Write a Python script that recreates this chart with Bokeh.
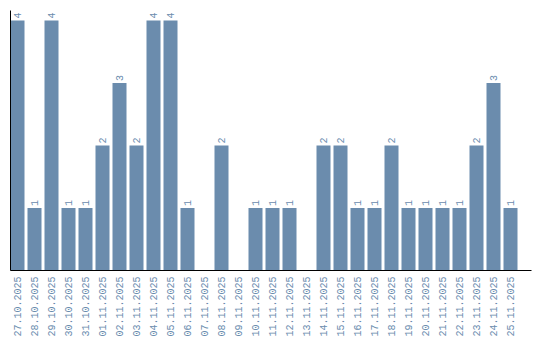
import math
from bokeh.plotting import figure
from bokeh.models import ColumnDataSource, Range1d, FixedTicker
from bokeh.core.properties import value
from bokeh.embed import file_html
from bokeh.resources import INLINE

dates = ["27.10.2025", "28.10.2025", "29.10.2025", "30.10.2025", "31.10.2025",
         "01.11.2025", "02.11.2025", "03.11.2025", "04.11.2025", "05.11.2025",
         "06.11.2025", "07.11.2025", "08.11.2025", "09.11.2025", "10.11.2025",
         "11.11.2025", "12.11.2025", "13.11.2025", "14.11.2025", "15.11.2025",
         "16.11.2025", "17.11.2025", "18.11.2025", "19.11.2025", "20.11.2025",
         "21.11.2025", "22.11.2025", "23.11.2025", "24.11.2025", "25.11.2025"]
counts = [4, 1, 4, 1, 1, 2, 3, 2, 4, 4, 1, 0, 2, 0, 1, 1, 1, 0, 2, 2,
          1, 1, 2, 1, 1, 1, 1, 2, 3, 1]

BAR = "#6b8cad"
TXT = "#6a8cae"
FONT = "Liberation Mono"

xs = [i + 0.5 for i in range(len(dates))]
src = ColumnDataSource(dict(x=xs, y=counts))
nz = [i for i, c in enumerate(counts) if c > 0]
lsrc = ColumnDataSource(dict(x=[xs[i] for i in nz], y=[counts[i] for i in nz],
                             lab=[str(counts[i]) for i in nz]))

bw = 14 / 17
p = figure(width=540, height=340, output_backend="svg", toolbar_location=None,
           x_range=Range1d(0.5 - bw / 2, 0.5 - bw / 2 + 521 / 17),
           y_range=Range1d(0, 4.16),
           min_border_left=10, min_border_right=9, min_border_top=10,
           min_border_bottom=70)
p.vbar(x="x", top="y", width=bw, source=src, color=BAR, line_color=None)
p.text(x="x", y="y", text="lab", source=lsrc, angle=math.pi / 2,
       text_align="left", text_baseline="middle", y_offset=-2,
       text_font=value(FONT), text_font_size="10px", text_color=TXT)

p.xgrid.visible = False
p.ygrid.visible = False
p.outline_line_color = None

p.xaxis.ticker = FixedTicker(ticks=xs)
p.xaxis.major_label_overrides = {x: d for x, d in zip(xs, dates)}
p.xaxis.major_label_orientation = math.pi / 2
p.xaxis.major_label_text_font = FONT
p.xaxis.major_label_text_font_size = "10px"
p.xaxis.major_label_text_color = TXT
p.xaxis.major_tick_in = 0
p.xaxis.major_tick_out = 0
p.xaxis.minor_tick_in = 0
p.xaxis.minor_tick_out = 0
p.xaxis.major_label_standoff = 6
p.xaxis.axis_line_color = "black"

p.yaxis.ticker = FixedTicker(ticks=[])
p.yaxis.major_tick_in = 0
p.yaxis.major_tick_out = 0
p.yaxis.minor_tick_in = 0
p.yaxis.minor_tick_out = 0
p.yaxis.major_label_standoff = 0
p.yaxis.axis_line_color = "black"

open("out.html", "w").write(file_html(p, INLINE))
